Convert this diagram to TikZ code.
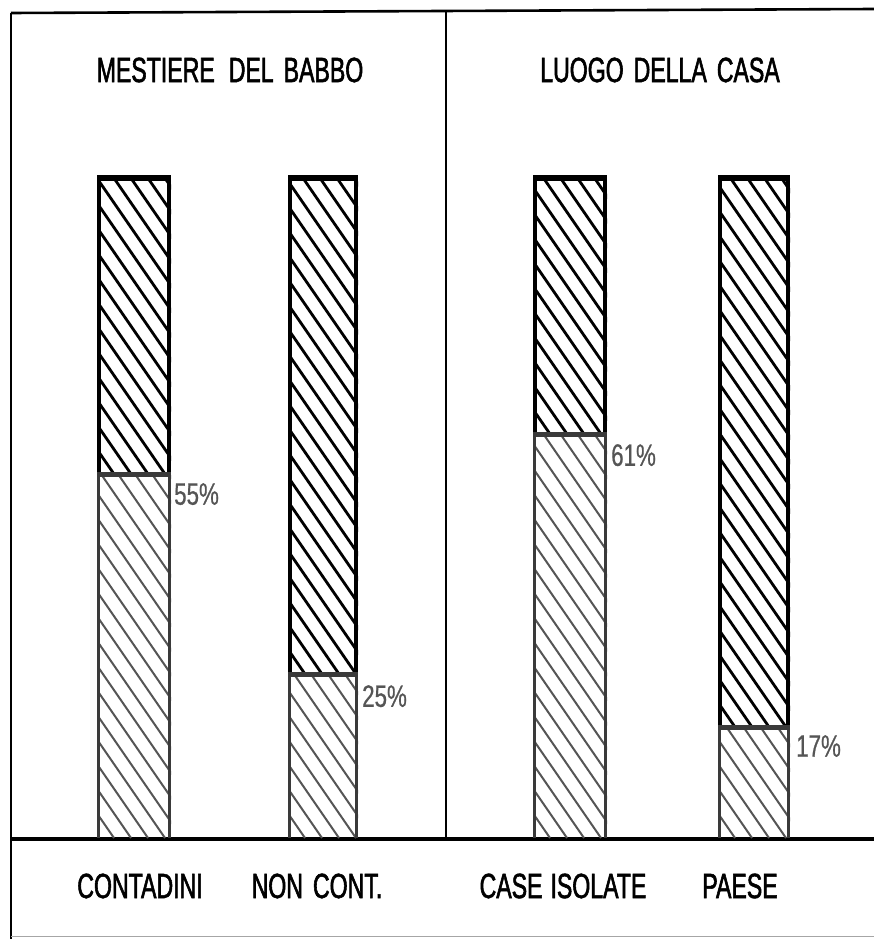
\documentclass[tikz,border=0pt]{standalone}
\usepackage{fontspec}
\setmainfont{Liberation Sans}[FakeStretch=0.66, FakeBold=1.6]
\newfontfamily\pctfont{Liberation Sans}[FakeStretch=0.72, FakeBold=0.6]
\definecolor{lowhatch}{HTML}{555555}
\definecolor{lowborder}{HTML}{3A3A3A}
\definecolor{pctgray}{HTML}{555555}
\tikzset{
  frame/.style={line width=2.6pt, black},
  title/.style={inner sep=0pt, font=\fontsize{35}{37}\selectfont},
  catlabel/.style={inner sep=0pt, font=\fontsize{35}{37}\selectfont},
  pct/.style={inner sep=0pt, anchor=north west, text=pctgray, font=\pctfont\fontsize{31}{33}\selectfont},
  uphatch/.style={line width=2.8pt, black},
  lowhatchline/.style={line width=2pt, lowhatch},
  upborder/.style={line width=4pt, black},
  lowborderline/.style={line width=3.4pt, lowborder},
  divline/.style={line width=5pt, lowborder},
}
% hatch a rectangle: x1, y1, x2, y2, spacing, style
\newcommand{\hatchfill}[6]{%
  \begin{scope}
    \clip (#1,#2) rectangle (#3,#4);
    \pgfmathsetmacro\hA{#1-(#4-#2)/1.45-#5}
    \pgfmathsetmacro\hB{\hA+#5}
    \pgfmathsetmacro\hH{#4-#2}
    \pgfmathsetmacro\hW{(#4-#2)/1.45}
    \foreach \hc in {\hA,\hB,...,#3} \draw[#6] (\hc,#2) -- ++(\hW,\hH);
  \end{scope}}
% bar: x1, x2, ydiv
\newcommand{\drawbar}[3]{%
  \hatchfill{#1}{176}{#2}{#3}{17}{uphatch}
  \hatchfill{#1}{#3}{#2}{838}{17}{lowhatchline}
  \draw[lowborderline] (#1+1.7,#3) -- (#1+1.7,838);
  \draw[lowborderline] (#2-1.7,#3) -- (#2-1.7,838);
  \draw[upborder] (#1+2,#3) -- (#1+2,176);
  \draw[upborder] (#2-2,#3) -- (#2-2,176);
  \draw[line width=6pt, black] (#1,178) -- (#2,178);
  \draw[divline] (#1,#3) -- (#2,#3);
}
\begin{document}
\begin{tikzpicture}[x=1pt, y=-1pt]
\useasboundingbox (0,0) rectangle (874,939);
% frame
\coordinate (tl) at (11,13);
\coordinate (tr) at (874,9);
\coordinate (bl) at (11,939);
\coordinate (ml) at (11,839);
\coordinate (mr) at (874,839);
\coordinate (vt) at (446,12);
\coordinate (vb) at (446,839);
\draw[frame] (tl) -- (tr);
\draw[frame] (tl) -- (bl);
\draw[line width=2.2pt] (vt) -- (vb);
\draw[line width=3.4pt] (ml) -- (mr);
\draw[line width=1.6pt, black!35] (11,936.5) -- (874,936.5);
% bars
\drawbar{97}{171}{474}
\drawbar{288}{358}{674}
\drawbar{533}{607}{434}
\drawbar{718}{790}{727}
% titles
\node[title] (t1) at (230,70) {MESTIERE\hspace{14pt}DEL\hspace{10pt}BABBO};
\node[title] (t2) at (660,70) {LUOGO\hspace{10pt}DELLA\hspace{10pt}CASA};
% category labels
\node[catlabel] (c1) at (140,886) {CONTADINI};
\node[catlabel] (c2) at (317,886) {NON\hspace{10pt}CONT.};
\node[catlabel] (c3) at (563,886) {CASE\hspace{8pt}ISOLATE};
\node[catlabel] (c4) at (740,886) {PAESE};
% percentages
\node[pct] (p1) at (174,483) {55\%};
\node[pct] (p2) at (362,685) {25\%};
\node[pct] (p3) at (611,444) {61\%};
\node[pct] (p4) at (796,735) {17\%};
\end{tikzpicture}
\end{document}
